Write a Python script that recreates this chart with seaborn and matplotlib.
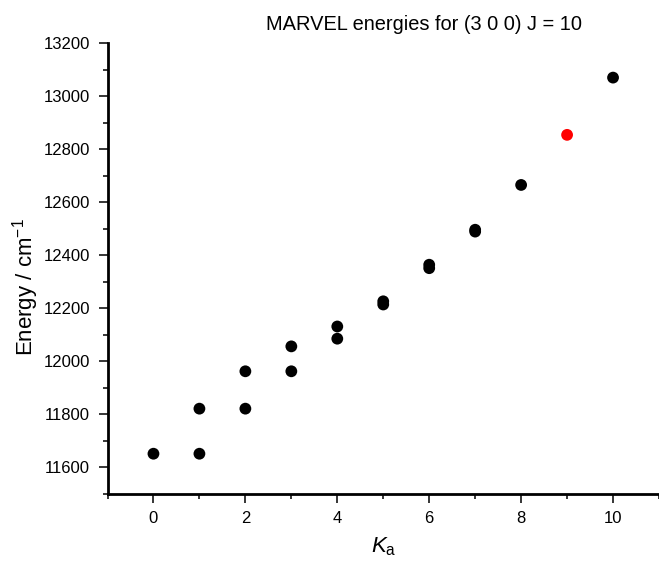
import numpy as np
import pandas as pd
import matplotlib
matplotlib.use('Agg')
import matplotlib.pyplot as plt
from matplotlib.ticker import MultipleLocator
import seaborn as sns
#
# Data (J = 10 levels of (3 0 0)):
ka = [0, 1, 1, 2, 2, 3, 3, 4, 4, 5, 5, 6, 6, 7, 7, 8, 9, 10]
energy = [11652, 11652, 11822, 11822, 11963, 11963, 12057, 12086, 12132,
          12215, 12227, 12352, 12365, 12490, 12497, 12666, 12855, 13071]
kind = ['MARVEL'] * 16 + ['missing'] + ['MARVEL']
colours = {'MARVEL': 'black', 'missing': '#ff0000'}
#
# Style:
sns.set_style('ticks')
plt.rcParams['font.family'] = ['Liberation Sans', 'DejaVu Sans']
plt.rcParams['mathtext.fontset'] = 'custom'
plt.rcParams['mathtext.rm'] = 'Liberation Sans'
plt.rcParams['mathtext.it'] = 'Liberation Sans:italic'
plt.rcParams['text.color'] = 'black'
plt.rcParams['axes.labelcolor'] = 'black'
plt.rcParams['xtick.color'] = 'black'
plt.rcParams['ytick.color'] = 'black'
#
df = pd.DataFrame({'Ka': ka, 'Energy': energy, 'kind': kind})
#
# Create the figure:
fig = plt.figure(figsize=(6.59, 5.66), dpi=100)
ax = fig.add_axes([107.5 / 659, 0.1272, 1 - 107.5 / 659, 0.7961])
sns.scatterplot(
    data=df,
    x='Ka',
    y='Energy',
    hue='kind',
    palette=colours,
    s=72,
    linewidth=0,
    legend=False,
    ax=ax
)
ax.set_xlim(-1, 11)
ax.set_ylim(11500, 13200)
ax.xaxis.set_major_locator(MultipleLocator(2))
ax.xaxis.set_minor_locator(MultipleLocator(1))
ax.yaxis.set_major_locator(MultipleLocator(200))
ax.yaxis.set_minor_locator(MultipleLocator(100))
ax.tick_params(which='major', length=6.5, width=1.1, labelsize=12)
ax.tick_params(which='minor', length=3.5, width=1.1)
ax.tick_params(axis='x', pad=6)
ax.tick_params(axis='y', pad=6)
for side in ['top', 'right']:
    ax.spines[side].set_visible(False)
for side in ['left', 'bottom']:
    ax.spines[side].set_linewidth(2)
    ax.spines[side].set_color('black')
#
# Labels and title:
ax.set_xlabel(r'$\mathit{K}_\mathrm{a}$', fontsize=16)
ax.set_ylabel(r'Energy / cm$^{-1}$', fontsize=16)
ax.xaxis.set_label_coords(0.5, -0.091)
ax.yaxis.set_label_coords(-0.121, 0.46)
fig.text(0.644, 1 - 30 / 566, 'MARVEL energies for (3 0 0) J = 10',
         fontsize=14.4, ha='center', va='baseline')
#
# Save it:
fig.savefig('out.png', dpi=100)
